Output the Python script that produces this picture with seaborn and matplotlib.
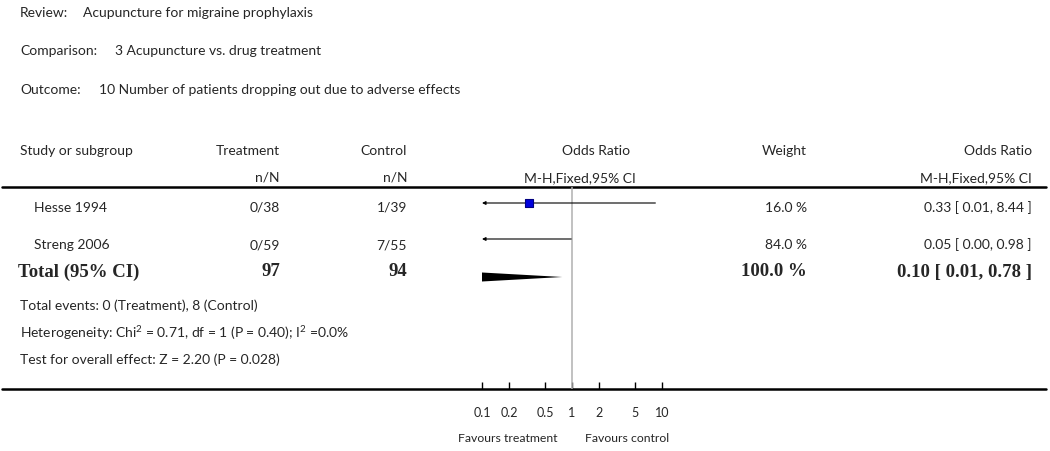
import numpy as np
import pandas as pd
import matplotlib
matplotlib.use("Agg")
import matplotlib.pyplot as plt
import seaborn as sns

# =====================================================
# DATA
# =====================================================
review = "Acupuncture for migraine prophylaxis"
comparison = "3 Acupuncture vs. drug treatment"
outcome = "10 Number of patients dropping out due to adverse effects"

studies = ["Hesse 1994", "Streng 2006"]
treat_nN = ["0/38", "0/59"]
control_nN = ["1/39", "7/55"]
weights = [16.0, 84.0]
or_est = [0.33, 0.05]
ci_low = [0.01, 0.00]
ci_high = [8.44, 0.98]

total_treat = 97
total_control = 94
total_weight = 100.0
total_or = 0.10
total_low = 0.01
total_high = 0.78

footer = [
    "Total events: 0 (Treatment), 8 (Control)",
    "Heterogeneity: Chi$^2$ = 0.71, df = 1 (P = 0.40); I$^2$ =0.0%",
    "Test for overall effect: Z = 2.20 (P = 0.028)",
]

ticks = [0.1, 0.2, 0.5, 1, 2, 5, 10]
tick_labels = ["0.1", "0.2", "0.5", "1", "2", "5", "10"]
favours = ["Favours treatment", "Favours control"]

# =====================================================
# LAYOUT (pixels)
# =====================================================
W, H = 1050, 451
row_line_y = [203, 239]
row_text_y = [208, 245]
total_mark_y = 277
total_text_y = 272
footer_y = [306, 333, 360]
x_lo, x_hi = 0.1, 10

sns.set_theme(style="white")
plt.rcParams["font.family"] = ["Lato", "DejaVu Sans"]
plt.rcParams["mathtext.fontset"] = "custom"
plt.rcParams["mathtext.rm"] = "Lato"

TXT = "#262626"
FS = 10
SERIF = ["Liberation Serif", "DejaVu Serif"]

fig = plt.figure(figsize=(W / 100, H / 100), dpi=100)

# background axes in pixel coords
bg = fig.add_axes([0, 0, 1, 1])
bg.set_xlim(0, W)
bg.set_ylim(H, 0)
bg.axis("off")

# header block
bg.text(20, 13, "Review:", fontsize=FS, color=TXT, va="center")
bg.text(83, 13, review, fontsize=FS, color=TXT, va="center")
bg.text(20, 51, "Comparison:", fontsize=FS, color=TXT, va="center")
bg.text(115, 51, comparison, fontsize=FS, color=TXT, va="center")
bg.text(20, 90, "Outcome:", fontsize=FS, color=TXT, va="center")
bg.text(99, 90, outcome, fontsize=FS, color=TXT, va="center")

# column headers
bg.text(20, 151, "Study or subgroup", fontsize=FS, color=TXT, va="center")
bg.text(280, 151, "Treatment", fontsize=FS, color=TXT, va="center", ha="right")
bg.text(280, 178, "n/N", fontsize=FS, color=TXT, va="center", ha="right")
bg.text(407, 151, "Control", fontsize=FS, color=TXT, va="center", ha="right")
bg.text(407, 178, "n/N", fontsize=FS, color=TXT, va="center", ha="right")
bg.text(596, 151, "Odds Ratio", fontsize=FS, color=TXT, va="center", ha="center")
bg.text(580, 178, "M-H,Fixed,95% CI", fontsize=FS, color=TXT, va="center", ha="center")
bg.text(807, 151, "Weight", fontsize=FS, color=TXT, va="center", ha="right")
bg.text(1032, 151, "Odds Ratio", fontsize=FS, color=TXT, va="center", ha="right")
bg.text(1032, 178, "M-H,Fixed,95% CI", fontsize=FS, color=TXT, va="center", ha="right")

bg.plot([2, 1046], [187, 187], color="black", lw=1.8)
bg.plot([2, 1046], [389, 389], color="black", lw=1.8)

# study rows
for i, name in enumerate(studies):
    y = row_text_y[i]
    bg.text(34, y, name, fontsize=FS, color=TXT, va="center")
    bg.text(280, y, treat_nN[i], fontsize=FS, color=TXT, va="center", ha="right")
    bg.text(407, y, control_nN[i], fontsize=FS, color=TXT, va="center", ha="right")
    bg.text(807, y, f"{weights[i]:.1f} %", fontsize=FS, color=TXT, va="center", ha="right")
    bg.text(1032, y, f"{or_est[i]:.2f} [ {ci_low[i]:.2f}, {ci_high[i]:.2f} ]",
            fontsize=FS, color=TXT, va="center", ha="right")

# total row
bfs = 13.5
bg.text(18, total_text_y, "Total (95% CI)", fontsize=bfs, family=SERIF, weight="bold", va="center")
bg.text(280, total_text_y, str(total_treat), fontsize=bfs, family=SERIF, weight="bold", va="center", ha="right")
bg.text(407, total_text_y, str(total_control), fontsize=bfs, family=SERIF, weight="bold", va="center", ha="right")
bg.text(807, total_text_y, f"{total_weight:.1f} %", fontsize=bfs, family=SERIF, weight="bold", va="center", ha="right")
bg.text(1032, total_text_y, f"{total_or:.2f} [ {total_low:.2f}, {total_high:.2f} ]",
        fontsize=bfs, family=SERIF, weight="bold", va="center", ha="right")

for txt, y in zip(footer, footer_y):
    bg.text(20, y, txt, fontsize=FS, color=TXT, va="center")

bg.text(508, 438, favours[0], fontsize=8.8, color=TXT, va="center", ha="center")
bg.text(627, 438, favours[1], fontsize=8.8, color=TXT, va="center", ha="center")

# =====================================================
# FOREST AXES
# =====================================================
ax = fig.add_axes([482 / W, (H - 389) / H, 180 / W, (389 - 187) / H])
ax.set_xscale("log")
ax.set_xlim(x_lo, x_hi)
ax.set_ylim(389, 187)
ax.patch.set_alpha(0)
for s in ax.spines.values():
    s.set_visible(False)

ax.axvline(1, color="#b0b0b0", lw=1.1, zorder=1)

for i in range(len(studies)):
    y = row_line_y[i]
    lo = max(ci_low[i], x_lo)
    hi = min(ci_high[i], x_hi)
    if ci_low[i] < x_lo:
        ax.annotate("", xy=(lo, y), xytext=(hi, y),
                    arrowprops=dict(arrowstyle="-|>", lw=0.8, color="black",
                                    mutation_scale=5, shrinkA=0, shrinkB=0))
    else:
        ax.plot([lo, hi], [y, y], color="black", lw=0.8)

df = pd.DataFrame({"or": or_est, "y": row_line_y})
sns.scatterplot(data=df, x="or", y="y", marker="s", s=40, color="#0000dd",
                edgecolor="#000080", linewidth=0.8, ax=ax, zorder=3, legend=False)

h = 4.5
ax.fill([total_low, total_or, total_high, total_or],
        [total_mark_y, total_mark_y - h, total_mark_y, total_mark_y + h],
        color="black", lw=0, zorder=3)

ax.set_xticks(ticks)
ax.set_xticklabels(tick_labels)
ax.xaxis.set_minor_locator(matplotlib.ticker.NullLocator())
ax.set_yticks([])
ax.tick_params(axis="x", direction="in", length=5, width=1, color="black",
               pad=13, labelsize=9, labelcolor=TXT, bottom=True)
ax.set_xlabel("")
ax.set_ylabel("")

fig.savefig("out.png", dpi=100)
